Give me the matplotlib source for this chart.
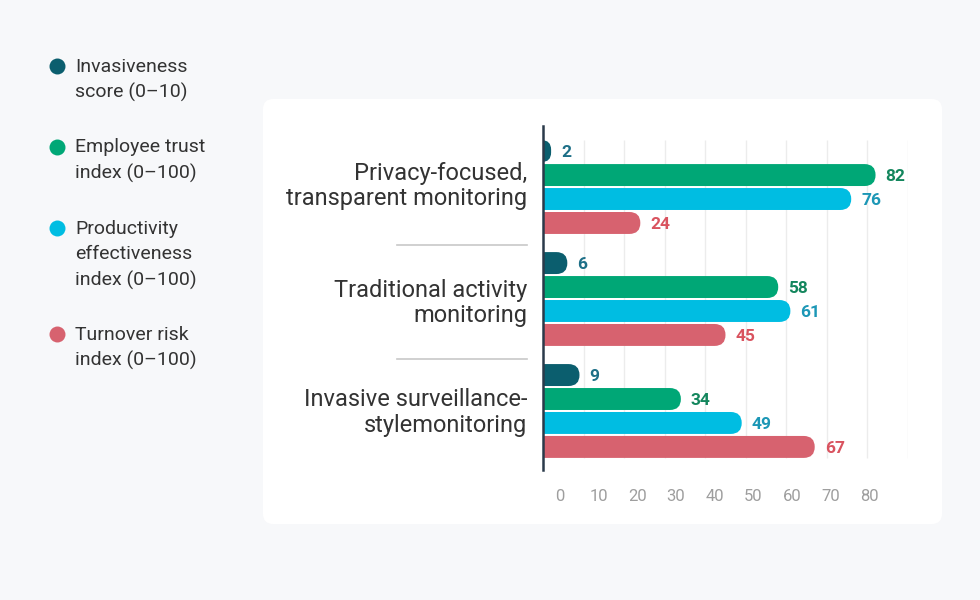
import matplotlib
matplotlib.use("Agg")
import matplotlib.pyplot as plt
from matplotlib.patches import FancyBboxPatch
from matplotlib.lines import Line2D
from matplotlib.transforms import blended_transform_factory, ScaledTranslation
import numpy as np

plt.rcParams['font.family'] = ['Roboto', 'DejaVu Sans']

# ---------------- data ----------------
categories = ["Privacy-focused,\ntransparent monitoring",
              "Traditional activity\nmonitoring",
              "Invasive surveillance-\nstylemonitoring"]
series_names = ["Invasiveness\nscore (0–10)",
                "Employee trust\nindex (0–100)",
                "Productivity\neffectiveness\nindex (0–100)",
                "Turnover risk\nindex (0–100)"]
invasiveness = [2, 6, 9]
trust = [82, 58, 34]
productivity = [76, 61, 49]
turnover = [24, 45, 67]
x_ticks = [0, 10, 20, 30, 40, 50, 60, 70, 80]
x_tick_labels = ["0", "10", "20", "30", "40", "50", "60", "70", "80"]

series = [invasiveness, trust, productivity, turnover]
bar_colors = ["#0b5e6e", "#00a776", "#00bde2", "#d7626f"]
label_colors = ["#1d6f87", "#13865d", "#1c97b6", "#d9535f"]

# ---------------- figure ----------------
W, H = 980, 600
fig = plt.figure(figsize=(W / 100, H / 100), dpi=100, facecolor='#f7f8fa')

panel = FancyBboxPatch((263 / W, 1 - 524 / H), (942 - 263) / W, (524 - 99) / H,
                       boxstyle="round,pad=0,rounding_size=0.0105",
                       mutation_aspect=W / H, transform=fig.transFigure,
                       facecolor='white', edgecolor='none', zorder=0)
fig.add_artist(panel)

ax_left, ax_right, ax_top, ax_bot = 543, 908, 126, 470
ax = fig.add_axes([ax_left / W, 1 - ax_bot / H, (ax_right - ax_left) / W, (ax_bot - ax_top) / H])
ax.patch.set_visible(False)
xmax = 90
ylo, yhi = 2.527, -0.545
ax.set_xlim(0, xmax)
ax.set_ylim(ylo, yhi)

slot = 0.214
bh = 0.196
xdpp = xmax / (ax_right - ax_left)
ydpp = (ylo - yhi) / (ax_bot - ax_top)
aspect = ydpp / xdpp
r = bh / aspect / 2

# gridlines
ax.vlines(np.arange(10, xmax + 1, 10), -1.5 * slot - bh / 2, 2 + 1.5 * slot + bh / 2,
          color='#ececec', lw=1, zorder=0)

for j, (vals, c, lc) in enumerate(zip(series, bar_colors, label_colors)):
    ys = np.arange(len(categories)) + (j - 1.5) * slot
    bc = ax.barh(ys, vals, height=bh, color=c)
    for rect, v, yc in zip(bc, vals, ys):
        x0, y0, w, h = rect.get_x(), rect.get_y(), rect.get_width(), rect.get_height()
        rect.set_visible(False)
        rs = min(r, (w + r) / 2)
        p = FancyBboxPatch((x0 - r, y0), w + r, h,
                           boxstyle=f"round,pad=0,rounding_size={rs}",
                           mutation_aspect=aspect, facecolor=c, edgecolor='none', zorder=1)
        ax.add_patch(p)
        ax.annotate(str(v), xy=(v, yc), xytext=(10 * 0.72, 0), textcoords='offset points',
                    va='center_baseline', ha='left', fontsize=12.5, fontweight='bold', color=lc)

for s in ['top', 'right', 'bottom']:
    ax.spines[s].set_visible(False)
ax.spines['left'].set_color('#2b3a4a')
ax.spines['left'].set_linewidth(1.8)
ax.spines['left'].set_zorder(3)
ax.set_xticks([])
ax.set_yticks(np.arange(len(categories)))
ax.set_yticklabels(categories, fontsize=17, color='#333333', linespacing=1.13)
ax.tick_params(axis='y', length=0, pad=11.5)
for lbl, dy in zip(ax.get_yticklabels(), [5, 0, 2]):
    lbl.set_transform(lbl.get_transform() + ScaledTranslation(0, dy / 100, fig.dpi_scale_trans))

# separators
tr = blended_transform_factory(ax.transAxes, ax.transData)
for yy in [0.52, 1.54]:
    ax.plot([(397 - ax_left) / (ax_right - ax_left), (527 - ax_left) / (ax_right - ax_left)],
            [yy, yy], transform=tr, color='#c8c8c8', lw=1.2, clip_on=False)

# tick labels axis
ax2 = fig.add_axes([560 / W, 1 - ax_bot / H, (908 - 560) / W, 0.001])
ax2.set_xlim(0, xmax)
ax2.set_xticks(x_ticks)
ax2.set_xticklabels(x_tick_labels)
ax2.set_yticks([])
ax2.patch.set_visible(False)
for s in ax2.spines.values():
    s.set_visible(False)
ax2.tick_params(axis='x', length=0, pad=13.7, labelsize=12, labelcolor='#9e9e9e')

# legend
marker_y = [66, 147, 228, 334]
text_top = [57.5, 138.5, 219.5, 325.5]
for name, c, my, ty in zip(series_names, bar_colors, marker_y, text_top):
    fig.add_artist(Line2D([57 / W], [1 - my / H], marker='o', ms=11.5, color=c,
                          markeredgewidth=0, transform=fig.transFigure))
    fig.text(75 / W, 1 - ty / H, name, va='top', ha='left', fontsize=14,
             color='#333333', linespacing=1.52)

fig.savefig("out.png", dpi=100, facecolor=fig.get_facecolor())
